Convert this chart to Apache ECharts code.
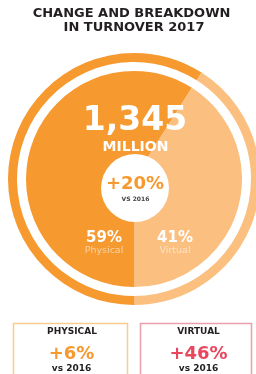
<!DOCTYPE html>
<html>
<head>
<meta charset="utf-8">
<script src="https://cdn.jsdelivr.net/npm/echarts@6/dist/echarts.min.js"></script>
<style>
html,body{margin:0;padding:0;background:#fff;}
#c{width:256px;height:374px;}
</style>
</head>
<body>
<div id="c"></div>
<script>
var titleLines = ['CHANGE AND BREAKDOWN', 'IN TURNOVER 2017'];
var categories = ['Physical', 'Virtual'];
var shares = [59, 41];
var changes = ['+6%', '+46%'];
var totalLabel = '1,345';
var unitLabel = 'MILLION';
var totalChange = '+20%';
var compareLabel = 'vs 2016';

var DARK = '#F6992F', LIGHT = '#FBBF80', INK = '#231F20', FONT = 'DejaVu Sans';
var pieData = categories.map(function (c, i) {
  return { name: c, value: shares[i], itemStyle: { color: i === 0 ? DARK : LIGHT } };
});
var CX = 134, CY = 179;

function txt(x, y, s, size, color, weight, opacity) {
  return { type: 'text', x: x, y: y, z: 10,
    style: { text: s, fill: color, font: (weight || 'bold') + ' ' + size + 'px "' + FONT + '"',
      textAlign: 'center', textVerticalAlign: 'middle', opacity: opacity == null ? 1 : opacity } };
}

var graphics = [
  txt(131.5, 14, titleLines[0], 13, INK),
  txt(134, 28, titleLines[1], 13, INK),
  txt(135, 121, totalLabel, 33, '#fff'),
  txt(135.5, 147, unitLabel, 14, '#fff'),
  { type: 'circle', shape: { cx: 135, cy: 188, r: 34 }, style: { fill: '#fff' }, z: 5 },
  txt(135, 184, totalChange, 18, DARK),
  txt(135.5, 199.5, compareLabel.toUpperCase(), 6, '#444', 'bold'),
  txt(104, 238.5, shares[0] + '%', 15, '#fff'),
  txt(104, 251, categories[0], 9.5, '#fff', 'normal', 0.55),
  txt(175, 238.5, shares[1] + '%', 15, '#fff'),
  txt(175, 251, categories[1], 9.5, '#fff', 'normal', 0.55),
  { type: 'rect', shape: { x: 13.5, y: 323.5, width: 114, height: 60 }, style: { fill: 'none', stroke: '#FCCB8E', lineWidth: 1.5 } },
  { type: 'rect', shape: { x: 140.5, y: 323.5, width: 111, height: 60 }, style: { fill: 'none', stroke: '#E9A0AA', lineWidth: 1.5 } },
  txt(72, 331.5, categories[0].toUpperCase(), 9, INK),
  txt(71.5, 354, changes[0], 18, DARK),
  txt(71.5, 368.5, compareLabel, 9, INK),
  txt(198.5, 331.5, categories[1].toUpperCase(), 9, INK),
  txt(198.5, 354, changes[1], 18, '#E8475E'),
  txt(198.5, 368.5, compareLabel, 9, INK)
];

var chart = echarts.init(document.getElementById('c'), null, { renderer: 'canvas' });
chart.setOption({
  backgroundColor: '#fff',
  animation: false,
  series: [
    { type: 'pie', center: [CX, CY], radius: [0, 108], startAngle: 270, clockwise: true,
      label: { show: false }, labelLine: { show: false }, silent: true, data: pieData },
    { type: 'pie', center: [CX, CY], radius: [117, 126], startAngle: 270, clockwise: true,
      label: { show: false }, labelLine: { show: false }, silent: true, data: pieData }
  ],
  graphic: graphics
});
</script>
</body>
</html>
